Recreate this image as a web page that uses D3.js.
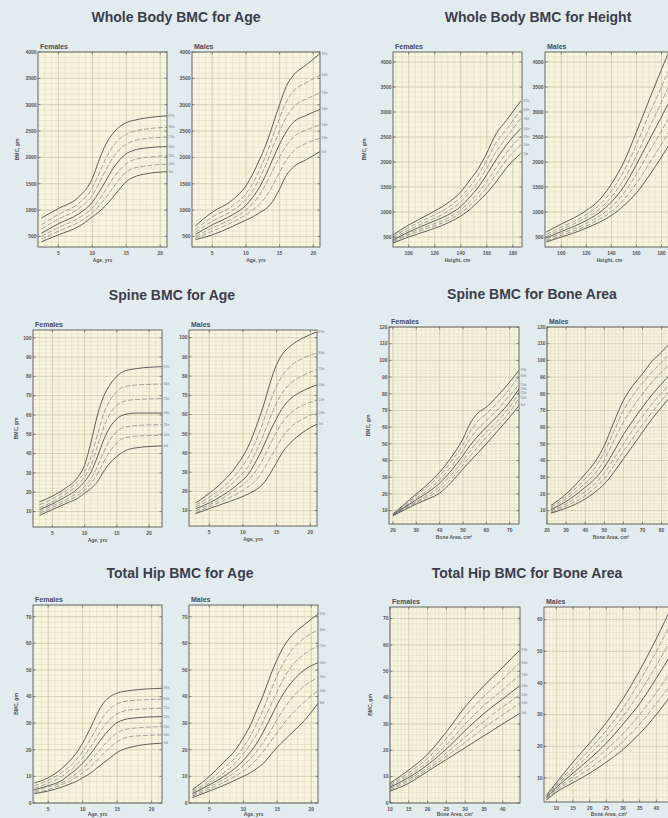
<!DOCTYPE html>
<html>
<head>
<meta charset="utf-8">
<script src="https://cdn.jsdelivr.net/npm/d3@7"></script>
<style>
  body { margin: 0; background: #e2ecef; }
  svg { display: block; font-family: "Liberation Sans", Arial, sans-serif; }
</style>
</head>
<body>
<div id="chart"></div>
<script>
// Percentile curve names, top to bottom
const percentiles = ["97th", "90th", "75th", "50th", "25th", "10th", "3rd"];

// Whole body BMC for age (gm)
const wbAgeFemaleX = [2.5, 5, 8, 10, 11, 12, 13, 14, 15, 16, 18, 21];
const wbAgeFemale = [
  [850, 1030, 1250, 1600, 1950, 2250, 2450, 2580, 2660, 2700, 2750, 2790],
  [720, 920, 1130, 1420, 1700, 1980, 2200, 2350, 2440, 2490, 2540, 2570],
  [640, 830, 1030, 1280, 1510, 1760, 1990, 2150, 2250, 2310, 2360, 2385],
  [560, 740, 930, 1150, 1340, 1560, 1780, 1950, 2070, 2130, 2180, 2205],
  [500, 670, 850, 1040, 1200, 1390, 1590, 1760, 1880, 1950, 2000, 2030],
  [450, 600, 770, 950, 1080, 1240, 1420, 1590, 1720, 1790, 1840, 1870],
  [400, 530, 690, 870, 970, 1090, 1240, 1400, 1540, 1620, 1690, 1730]
];
const wbAgeMaleX = [2.5, 5, 8, 10, 11, 12, 13, 14, 15, 16, 17, 19, 21];
const wbAgeMale = [
  [700, 960, 1190, 1460, 1680, 1950, 2250, 2620, 3000, 3350, 3550, 3760, 3970],
  [630, 870, 1080, 1310, 1500, 1760, 2050, 2400, 2750, 3050, 3250, 3420, 3560],
  [580, 790, 990, 1200, 1370, 1600, 1870, 2190, 2500, 2760, 2950, 3110, 3220],
  [540, 720, 910, 1090, 1240, 1430, 1680, 1970, 2250, 2490, 2660, 2800, 2910],
  [500, 660, 840, 1000, 1120, 1280, 1500, 1760, 2010, 2220, 2380, 2520, 2615],
  [470, 600, 770, 910, 1000, 1110, 1260, 1470, 1720, 1950, 2110, 2270, 2360],
  [440, 530, 690, 810, 870, 950, 1030, 1170, 1400, 1660, 1810, 1960, 2110]
];

// Whole body BMC for height (gm)
const wbHtFemaleX = [88, 100, 115, 130, 140, 147, 153, 160, 167, 175, 186];
const wbHtFemale = [
  [540, 740, 950, 1180, 1400, 1640, 1850, 2180, 2560, 2830, 3220],
  [500, 690, 880, 1090, 1300, 1510, 1720, 2040, 2380, 2650, 3040],
  [470, 640, 820, 1010, 1200, 1400, 1590, 1880, 2200, 2490, 2870],
  [440, 600, 770, 940, 1110, 1300, 1480, 1750, 2040, 2340, 2670],
  [420, 570, 720, 880, 1040, 1210, 1370, 1610, 1880, 2180, 2510],
  [400, 540, 680, 830, 980, 1130, 1280, 1490, 1750, 2040, 2340],
  [380, 500, 630, 780, 920, 1050, 1200, 1380, 1600, 1880, 2170]
];
const wbHtMaleX = [88, 100, 110, 120, 130, 140, 150, 160, 170, 180, 190];
const wbHtMale = [
  [600, 760, 880, 1030, 1230, 1560, 2000, 2600, 3230, 3850, 4450],
  [550, 700, 810, 950, 1130, 1420, 1820, 2350, 2950, 3500, 4100],
  [510, 650, 760, 890, 1050, 1300, 1650, 2130, 2670, 3200, 3750],
  [480, 610, 710, 830, 980, 1200, 1510, 1950, 2430, 2900, 3400],
  [450, 570, 660, 770, 910, 1100, 1380, 1760, 2200, 2620, 3080],
  [420, 530, 620, 720, 850, 1010, 1250, 1570, 1960, 2360, 2780],
  [400, 500, 580, 680, 790, 930, 1130, 1380, 1720, 2100, 2500]
];

// Spine BMC for age (gm)
const spAgeFemaleX = [3, 5, 7, 9, 10, 11, 12, 13, 14, 15, 16, 18, 22];
const spAgeFemale = [
  [15, 18, 22, 28, 34, 46, 60, 70, 76, 80, 82.5, 84, 85],
  [13.5, 16.5, 20.5, 26, 30.5, 38.5, 50, 61, 68, 72, 74.5, 75.5, 76],
  [12, 15, 19, 24, 28, 34, 44, 54, 61, 65, 67, 68, 68.5],
  [11, 14, 17.5, 22, 25.5, 30.5, 38.5, 47.5, 54, 58, 60, 61, 61],
  [10, 13, 16, 20, 23, 27, 33.5, 41, 47.5, 51.5, 53.5, 54.5, 55],
  [9, 12, 15, 18.5, 21, 24.5, 29.5, 36, 41.5, 45.5, 48, 49, 49.5],
  [8, 11, 14, 17, 19.5, 22, 25.5, 31, 35.5, 38.5, 41, 43, 44]
];
const spAgeMaleX = [3, 5, 7, 9, 11, 12, 13, 14, 15, 16, 17, 19, 21];
const spAgeMale = [
  [14, 19, 25, 33, 45, 54, 64, 76, 86, 92, 95.5, 100, 103],
  [13, 17, 22, 29, 39, 47, 56, 66, 75, 81, 85, 89.5, 92],
  [12, 15.5, 20, 26, 34, 41, 49, 58, 66, 72, 76, 80.5, 83.5],
  [11, 14, 18, 23, 30, 36, 43, 51, 58, 64, 68, 72.5, 75.5],
  [10, 13, 16.5, 21, 26.5, 31, 37, 44, 51, 56.5, 60.5, 65, 67.5],
  [9, 12, 15, 18.5, 23, 26, 31, 37, 43, 49, 53, 58, 61],
  [8.5, 11, 13.5, 16, 19, 21, 24, 29, 35, 41, 45, 51, 55]
];

// Spine BMC for bone area (gm vs cm2)
const spAreaFemaleX = [20, 25, 30, 35, 40, 45, 50, 53, 56, 60, 65, 70, 74];
const spAreaFemale = [
  [8, 14, 20, 26, 33, 42, 53, 62, 68, 72, 79, 87, 94],
  [8, 13, 19, 24.5, 31, 39.5, 49.5, 57, 63, 68, 75, 83, 90.5],
  [7.8, 12.5, 17.5, 22.5, 28.5, 36.5, 46, 53, 58.5, 64, 71, 79, 85.5],
  [7.5, 12, 16.5, 21, 26.5, 34, 43, 49, 54, 60, 67, 75, 83],
  [7.3, 11.5, 15.5, 19.5, 24.5, 31.5, 40, 45.5, 51, 57, 64, 72, 80.5],
  [7.1, 11, 14.8, 18.2, 22.5, 29, 37.5, 42.5, 47.5, 54, 61, 69, 77.5],
  [7, 10.5, 14, 17, 20.5, 27, 35, 39.5, 44, 50, 58, 66, 73]
];
const spAreaMaleX = [22, 30, 40, 45, 50, 55, 60, 65, 70, 75, 80, 85, 88];
const spAreaMale = [
  [13, 20, 32, 39, 49, 63, 76, 85, 92, 99.5, 105, 111, 114],
  [12, 18.5, 29, 35.5, 45, 57.5, 70, 79, 86.5, 93, 99, 105, 108.5],
  [11, 17, 26.5, 32, 40.5, 52, 63, 72, 80, 87, 93, 99, 102.5],
  [10.5, 15.5, 24, 29, 36, 45.5, 55.5, 64, 72, 79.5, 86, 92.5, 96],
  [9.7, 14, 21.5, 26, 32.5, 41, 50, 58.5, 66.5, 74, 80.5, 87, 91],
  [9, 12.8, 19, 23.5, 29, 37, 45.5, 53.5, 61.5, 69, 76, 83, 87],
  [8.5, 11.5, 17, 21, 26, 33, 41, 49, 57, 65, 72, 79, 83]
];

// Total hip BMC for age (gm)
const hipAgeFemaleX = [3, 5, 7, 8, 9, 10, 11, 12, 13, 14, 15, 17, 21.5];
const hipAgeFemale = [
  [7.5, 9.5, 13, 15.5, 18.5, 22.5, 27.5, 33, 37.5, 40, 41.3, 42.3, 43.1],
  [6.5, 8.5, 11.5, 13.5, 16, 19.5, 23.5, 28, 32.5, 35.5, 37.3, 38.5, 39],
  [5.5, 7.5, 10, 12, 14, 17, 20.5, 24.5, 28.5, 31.5, 33.5, 35, 35.6],
  [5, 6.5, 8.5, 10.5, 12.5, 15, 18, 21.5, 25, 28, 30.2, 31.8, 32.5],
  [4.5, 6, 7.7, 9, 10.8, 13, 15.5, 18.5, 21.5, 24.2, 26.3, 28, 28.7],
  [4, 5, 7, 8, 9.5, 11.3, 13.3, 15.8, 18.5, 21, 23, 25, 25.6],
  [3.5, 4.5, 6, 7, 8, 9.5, 11, 13, 15, 17, 19, 21, 22.5]
];
const hipAgeMaleX = [2.5, 5, 7, 9, 10, 11, 12, 13, 14, 15, 16, 17, 19, 21];
const hipAgeMale = [
  [5, 10, 15, 20.5, 24.5, 29, 35, 41, 48, 54, 59, 62.5, 67, 71],
  [4.5, 8.5, 13, 17.5, 21, 25, 30, 35.5, 42, 48, 53, 57, 62, 65],
  [4, 7.5, 11, 15.5, 18.5, 22, 26, 31, 36.5, 42, 47, 51, 56, 59],
  [3.5, 6.8, 9.8, 13.5, 16, 19, 22.5, 27, 32, 37, 41.5, 45, 50, 52.7],
  [3, 6, 8.7, 12, 14, 16.5, 19.5, 23, 27, 31.5, 35.5, 39, 44, 47.2],
  [2.5, 5.2, 7.6, 10.3, 12, 14, 16.5, 19.5, 23, 26.5, 30, 33, 38, 42.2],
  [2, 4.5, 6.5, 8.8, 10, 11.3, 13, 15, 18, 21, 23.5, 26, 31, 37.5]
];

// Total hip BMC for bone area (gm vs cm2)
const hipAreaFemaleX = [10, 15, 20, 25, 30, 35, 40, 44.5];
const hipAreaFemale = [
  [7.5, 12.5, 18.5, 27, 36.5, 44.5, 51.5, 58],
  [7, 11.5, 17, 24.5, 33, 40.5, 47, 53.2],
  [6.5, 10.5, 15.5, 22, 30, 37, 43, 48.6],
  [6, 9.7, 14.5, 20.5, 27.5, 34, 39.5, 44.5],
  [5.5, 9, 13.5, 19, 25, 31, 36.5, 41],
  [5, 8.3, 12.7, 17.7, 23, 28.5, 33.5, 37.8],
  [4.5, 7.5, 12, 16.5, 21, 25.5, 30, 34]
];
const hipAreaMaleX = [7, 10, 15, 20, 25, 30, 35, 40, 45];
const hipAreaMale = [
  [4.5, 8.5, 15, 21, 27.5, 35, 44, 54, 65],
  [4.2, 8, 13.5, 19, 25, 32, 40.5, 50, 60],
  [4, 7.5, 12.5, 17.5, 23, 29.5, 37, 45.5, 55],
  [3.8, 7, 11.5, 16, 21, 27, 33.5, 41.5, 50],
  [3.5, 6.5, 10.5, 14.5, 19, 24, 30, 37, 44.5],
  [3.2, 6, 9.5, 13, 17, 21.5, 27, 33.5, 40.5],
  [3, 5.5, 8.5, 11.5, 15, 19, 24, 30, 37]
];

// Tick labels
const ageTicks = [5, 10, 15, 20];
const heightTicks = [100, 120, 140, 160, 180];
const wbBmcTicks = [500, 1000, 1500, 2000, 2500, 3000, 3500, 4000];
const spineBmcTicks = [10, 20, 30, 40, 50, 60, 70, 80, 90, 100];
const spineAreaBmcTicks = [10, 20, 30, 40, 50, 60, 70, 80, 90, 100, 110, 120];
const spineAreaFemaleTicks = [20, 30, 40, 50, 60, 70];
const spineAreaMaleTicks = [20, 30, 40, 50, 60, 70, 80];
const hipBmcTicks = [0, 10, 20, 30, 40, 50, 60, 70];
const hipAreaMaleBmcTicks = [10, 20, 30, 40, 50, 60];
const hipAreaTicks = [10, 15, 20, 25, 30, 35, 40];

// Layout: one entry per chart, two frames each
const panels = [
  { title: "Whole Body BMC for Age", tx: 176, ty: 22, xLabel: "Age, yrs", subs: [
    { sex: "Females", box: [38, 167, 52, 247], xd: [2, 21], yd: [300, 4000], xs: wbAgeFemaleX, ys: wbAgeFemale, xt: ageTicks, yt: wbBmcTicks, gx: 1, gy: 100, yLab: 19 },
    { sex: "Males", box: [192, 320, 52, 247], xd: [2, 21], yd: [300, 4000], xs: wbAgeMaleX, ys: wbAgeMale, xt: ageTicks, yt: wbBmcTicks, gx: 1, gy: 100 } ] },
  { title: "Whole Body BMC for Height", tx: 538, ty: 22, xLabel: "Height, cm", subs: [
    { sex: "Females", box: [393, 522, 52, 247], xd: [88, 187], yd: [300, 4200], xs: wbHtFemaleX, ys: wbHtFemale, xt: heightTicks, yt: wbBmcTicks, gx: 5, gy: 100, yLab: 366 },
    { sex: "Males", box: [545, 674, 52, 247], xd: [87, 190], yd: [300, 4200], xs: wbHtMaleX, ys: wbHtMale, xt: heightTicks, yt: wbBmcTicks, gx: 5, gy: 100 } ] },
  { title: "Spine BMC for Age", tx: 172, ty: 300, xLabel: "Age, yrs", subs: [
    { sex: "Females", box: [33, 162, 330, 527], xd: [2, 22], yd: [2, 104], xs: spAgeFemaleX, ys: spAgeFemale, xt: ageTicks, yt: spineBmcTicks, gx: 1, gy: 2, yLab: 18 },
    { sex: "Males", box: [189, 317, 330, 526], xd: [2, 21], yd: [2, 104], xs: spAgeMaleX, ys: spAgeMale, xt: ageTicks, yt: spineBmcTicks, gx: 1, gy: 2 } ] },
  { title: "Spine BMC for Bone Area", tx: 532, ty: 299, xLabel: "Bone Area, cm²", subs: [
    { sex: "Females", box: [389, 519, 327, 524], xd: [18.3, 74], yd: [2, 120], xs: spAreaFemaleX, ys: spAreaFemale, xt: spineAreaFemaleTicks, yt: spineAreaBmcTicks, gx: 2, gy: 2, yLab: 370 },
    { sex: "Males", box: [547, 675, 327, 524], xd: [20, 87], yd: [2, 120], xs: spAreaMaleX, ys: spAreaMale, xt: spineAreaMaleTicks, yt: spineAreaBmcTicks, gx: 2, gy: 2 } ] },
  { title: "Total Hip BMC for Age", tx: 180, ty: 578, xLabel: "Age, yrs", subs: [
    { sex: "Females", box: [33, 162, 605, 803], xd: [2.8, 21.5], yd: [0, 74.4], xs: hipAgeFemaleX, ys: hipAgeFemale, xt: ageTicks, yt: hipBmcTicks, gx: 1, gy: 2, yLab: 18 },
    { sex: "Males", box: [189, 318, 605, 803], xd: [2, 21], yd: [0, 74.4], xs: hipAgeMaleX, ys: hipAgeMale, xt: ageTicks, yt: hipBmcTicks, gx: 1, gy: 2 } ] },
  { title: "Total Hip BMC for Bone Area", tx: 527, ty: 578, xLabel: "Bone Area, cm²", subs: [
    { sex: "Females", box: [390, 520, 607, 803], xd: [10, 44.6], yd: [0, 74.4], xs: hipAreaFemaleX, ys: hipAreaFemale, xt: hipAreaTicks, yt: hipBmcTicks, gx: 1, gy: 2, yLab: 372 },
    { sex: "Males", box: [544, 674, 607, 802], xd: [6.3, 45.3], yd: [2.4, 64], xs: hipAreaMaleX, ys: hipAreaMale, xt: hipAreaTicks, yt: hipAreaMaleBmcTicks, gx: 1, gy: 2 } ] }
];

const W = 668, H = 818;
const svg = d3.select("#chart").append("svg")
              .attr("width", W)
              .attr("height", H);

svg.append("rect")
   .attr("width", W)
   .attr("height", H)
   .attr("fill", "#e2ecef");

let clipId = 0;

function drawSub(s, xLabel) {
  const [left, right, top, bottom] = s.box;
  const x = d3.scaleLinear().domain(s.xd).range([left, right]);
  const y = d3.scaleLinear().domain(s.yd).range([bottom, top]);
  const g = svg.append("g");

  // Cream plot area
  g.append("rect")
   .attr("x", left).attr("y", top)
   .attr("width", right - left).attr("height", bottom - top)
   .attr("fill", "#f8f5df");

  // Fine grid
  const gxs = d3.range(Math.ceil(s.xd[0] / s.gx) * s.gx, s.xd[1], s.gx);
  const gys = d3.range(Math.ceil(s.yd[0] / s.gy) * s.gy, s.yd[1], s.gy);
  g.selectAll(".gx").data(gxs).join("line")
   .attr("x1", d => x(d)).attr("x2", d => x(d))
   .attr("y1", top).attr("y2", bottom)
   .attr("stroke", "#dcd8c2").attr("stroke-width", 0.5);
  g.selectAll(".gy").data(gys).join("line")
   .attr("y1", d => y(d)).attr("y2", d => y(d))
   .attr("x1", left).attr("x2", right)
   .attr("stroke", "#dcd8c2").attr("stroke-width", 0.5);

  // Stronger lines at labelled ticks
  g.selectAll(".mx").data(s.xt).join("line")
   .attr("x1", d => x(d)).attr("x2", d => x(d))
   .attr("y1", top).attr("y2", bottom)
   .attr("stroke", "#c9c4a9").attr("stroke-width", 0.6);
  g.selectAll(".my").data(s.yt).join("line")
   .attr("y1", d => y(d)).attr("y2", d => y(d))
   .attr("x1", left).attr("x2", right)
   .attr("stroke", "#c9c4a9").attr("stroke-width", 0.6);

  // Curves, clipped to the frame
  const id = "clip" + (clipId++);
  svg.append("clipPath").attr("id", id)
     .append("rect")
     .attr("x", left).attr("y", top)
     .attr("width", right - left).attr("height", bottom - top);

  const line = d3.line()
                 .x((d, i) => x(s.xs[i]))
                 .y(d => y(d))
                 .curve(d3.curveMonotoneX);

  g.append("g").attr("clip-path", `url(#${id})`)
   .selectAll("path").data(s.ys).join("path")
   .attr("d", d => line(d))
   .attr("fill", "none")
   .attr("stroke", (d, i) => i % 3 === 0 ? "#4d4d4d" : "#808080")
   .attr("stroke-width", (d, i) => i % 3 === 0 ? 0.9 : 0.7)
   .attr("stroke-dasharray", (d, i) => i % 3 === 0 ? null : "5,2");

  // Frame
  g.append("rect")
   .attr("x", left).attr("y", top)
   .attr("width", right - left).attr("height", bottom - top)
   .attr("fill", "none").attr("stroke", "#5a5a5a").attr("stroke-width", 0.9);

  // Inward tick marks on all sides
  const tk = 2.5;
  s.xt.forEach(v => {
    g.append("line").attr("x1", x(v)).attr("x2", x(v)).attr("y1", bottom).attr("y2", bottom - tk)
     .attr("stroke", "#5a5a5a").attr("stroke-width", 0.7);
    g.append("line").attr("x1", x(v)).attr("x2", x(v)).attr("y1", top).attr("y2", top + tk)
     .attr("stroke", "#5a5a5a").attr("stroke-width", 0.7);
  });
  s.yt.forEach(v => {
    g.append("line").attr("y1", y(v)).attr("y2", y(v)).attr("x1", left).attr("x2", left + tk)
     .attr("stroke", "#5a5a5a").attr("stroke-width", 0.7);
    g.append("line").attr("y1", y(v)).attr("y2", y(v)).attr("x1", right).attr("x2", right - tk)
     .attr("stroke", "#5a5a5a").attr("stroke-width", 0.7);
  });

  // Tick labels
  g.selectAll(".xl").data(s.xt).join("text")
   .attr("x", d => x(d)).attr("y", bottom + 8)
   .attr("text-anchor", "middle")
   .attr("font-size", 5).attr("font-weight", "bold").attr("fill", "#555")
   .text(d => d);
  g.selectAll(".yl").data(s.yt).join("text")
   .attr("x", left - 1.5).attr("y", d => y(d) + 1.8)
   .attr("text-anchor", "end")
   .attr("font-size", 5).attr("font-weight", "bold").attr("fill", "#555")
   .text(d => d);

  // Axis titles
  g.append("text")
   .attr("x", (left + right) / 2).attr("y", Math.min(bottom + 15, H - 2))
   .attr("text-anchor", "middle")
   .attr("font-size", 5).attr("font-weight", "bold").attr("fill", "#555")
   .text(xLabel);
  if (s.yLab) {
    g.append("text")
     .attr("transform", `translate(${s.yLab}, ${(top + bottom) / 2}) rotate(-90)`)
     .attr("text-anchor", "middle")
     .attr("font-size", 5).attr("font-weight", "bold").attr("fill", "#555")
     .text("BMC, gm");
  }

  // Sex label above the frame
  g.append("text")
   .attr("x", left + 2).attr("y", top - 3)
   .attr("font-size", 7).attr("font-weight", "bold").attr("fill", "#4a4a55")
   .text(s.sex);

  // Percentile names at the right end of each curve (only where the page shows them)
  const lastX = s.xs[s.xs.length - 1];
  if (lastX <= s.xd[1] + 0.5 && right + 10 < W) {
    g.selectAll(".pl").data(s.ys).join("text")
     .attr("x", right + 1.5)
     .attr("y", d => y(d[d.length - 1]) + 1)
     .attr("font-size", 3).attr("fill", "#777")
     .text((d, i) => percentiles[i]);
  }
}

panels.forEach(p => {
  svg.append("text")
     .attr("x", p.tx).attr("y", p.ty)
     .attr("text-anchor", "middle")
     .attr("font-size", 14).attr("font-weight", "bold").attr("fill", "#3c3c4c")
     .text(p.title);
  p.subs.forEach(s => drawSub(s, p.xLabel));
});
</script>
</body>
</html>
